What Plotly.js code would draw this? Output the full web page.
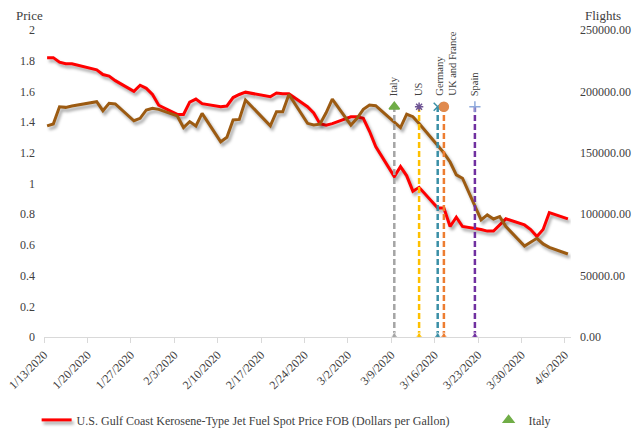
<!DOCTYPE html>
<html>
<head>
<meta charset="utf-8">
<script src="https://cdn.plot.ly/plotly-3.0.1.min.js"></script>
<style>
  html, body { margin: 0; padding: 0; background: #fff; }
  #chart { width: 641px; height: 430px; }
</style>
</head>
<body>
<div id="chart"></div>
<script>
// ---- data ----
const dates = [
  '2020-01-13','2020-01-14','2020-01-15','2020-01-16','2020-01-17',
  '2020-01-21','2020-01-22','2020-01-23','2020-01-24',
  '2020-01-27','2020-01-28','2020-01-29','2020-01-30','2020-01-31',
  '2020-02-03','2020-02-04','2020-02-05','2020-02-06','2020-02-07',
  '2020-02-10','2020-02-11','2020-02-12','2020-02-13','2020-02-14',
  '2020-02-18','2020-02-19','2020-02-20','2020-02-21',
  '2020-02-24','2020-02-25','2020-02-26','2020-02-27','2020-02-28',
  '2020-03-02','2020-03-03','2020-03-04','2020-03-05','2020-03-06',
  '2020-03-09','2020-03-10','2020-03-11','2020-03-12','2020-03-13',
  '2020-03-16','2020-03-17','2020-03-18','2020-03-19','2020-03-20',
  '2020-03-23','2020-03-24','2020-03-25','2020-03-26','2020-03-27',
  '2020-03-30','2020-03-31','2020-04-01','2020-04-02','2020-04-03',
  '2020-04-06'
];
const jetFuelPrice = [
  1.82,1.82,1.79,1.78,1.78,
  1.74,1.71,1.70,1.67,
  1.60,1.64,1.62,1.58,1.51,
  1.45,1.45,1.53,1.55,1.52,
  1.50,1.505,1.56,1.58,1.595,
  1.565,1.59,1.585,1.585,
  1.50,1.46,1.39,1.38,1.39,
  1.435,1.435,1.425,1.34,1.24,
  1.045,1.11,1.05,0.95,0.975,
  0.84,0.84,0.72,0.78,0.72,
  0.70,0.69,0.69,0.73,0.77,
  0.73,0.70,0.655,0.70,0.81,
  0.77
];
const flights = [
  171900,173500,187500,187000,188100,
  191600,184300,190300,189800,
  176100,178100,184900,186300,185400,
  180000,170600,175400,171900,182100,
  159000,162600,176800,177200,193000,
  171900,183500,183500,197500,
  174000,172600,173300,182600,193800,
  172600,178100,185400,188900,188400,
  175000,170500,181400,179400,173800,
  156500,150000,142500,132000,129300,
  95300,99400,96100,98000,90000,
  74100,77500,80400,75800,73000,
  67600
];
const eventNames  = ['Italy', 'US', 'Germany', 'UK and France', 'Spain'];
const eventDates  = ['2020-03-09', '2020-03-13', '2020-03-16', '2020-03-17', '2020-03-22'];
const eventLevel  = 187500;   // flights-axis height of event markers
const eventLabels = ['Italy', 'US', 'Germany<br>UK and France', null, 'Spain'];

const priceName = 'U.S. Gulf Coast Kerosene-Type Jet Fuel Spot Price FOB (Dollars per Gallon)';
const xTickStart = '2020-01-13';
const xRange = ['2020-01-13', '2020-04-07'];

// ---- styles ----
const FONT = 'Liberation Serif, Times New Roman, serif';
const TXT = '#404040';
const evLine   = ['#A5A5A5', '#FFC000', '#3A8FA6', '#ED7D31', '#7030A0'];
const evTopCol = ['#70AD47', '#6E5494', '#3A8FA6', '#E08A4E', '#8FAADC'];
const evTopSym = ['triangle-up', 'asterisk-open', 'x-thin-open', 'circle', 'cross-thin-open'];
const evTopSize = [9, 7, 8, 9, 8];

const mid = d => d + ' 12:00';   // Excel date axis: points centred in the day slot

const traces = [];
traces.push({
  type: 'scatter', mode: 'lines', name: priceName,
  x: dates.map(mid), y: jetFuelPrice, yaxis: 'y',
  line: { color: '#FF0000', width: 3 },
  legendrank: 1, legendwidth: 407, hoverinfo: 'skip'
});
traces.push({
  type: 'scatter', mode: 'lines', name: 'Flights',
  x: dates.map(mid), y: flights, yaxis: 'y2',
  line: { color: '#9C5B12', width: 3 },
  showlegend: false, hoverinfo: 'skip'
});
eventDates.forEach((d, i) => {
  traces.push({
    type: 'scatter', mode: 'lines+markers', name: eventNames[i] + ' line',
    x: [mid(d), mid(d)], y: [0, eventLevel], yaxis: 'y2',
    line: { color: evLine[i], width: 2.5, dash: '6px,3px' },
    marker: { symbol: 'triangle-up', size: [9, 0], color: evLine[i] },
    showlegend: false, hoverinfo: 'skip'
  });
  traces.push({
    type: 'scatter', mode: 'markers', name: eventNames[i],
    x: [mid(d)], y: [eventLevel], yaxis: 'y2',
    marker: { symbol: evTopSym[i], size: evTopSize[i], color: evTopCol[i],
              line: { color: evTopCol[i], width: 1.5 } },
    showlegend: i === 0, legendrank: 2, hoverinfo: 'skip', cliponaxis: false
  });
});

const annotations = [
  { text: 'Price', xref: 'paper', yref: 'paper', x: -0.028, y: 1.046,
    xanchor: 'center', yanchor: 'middle', showarrow: false,
    font: { family: FONT, size: 13, color: TXT } },
  { text: 'Flights', xref: 'paper', yref: 'paper', x: 1.061, y: 1.046,
    xanchor: 'center', yanchor: 'middle', showarrow: false,
    font: { family: FONT, size: 13, color: TXT } }
];
eventDates.forEach((d, i) => {
  if (!eventLabels[i]) return;
  annotations.push({
    text: eventLabels[i], xref: 'x', yref: 'paper', x: mid(d), y: 0.782,
    xanchor: 'center', yanchor: 'bottom', textangle: -90, align: 'left',
    xshift: i === 2 ? 9 : 0,
    showarrow: false, borderpad: 0,
    font: { family: FONT, size: 10.5, color: TXT }
  });
});

const layout = {
  width: 641, height: 430,
  margin: { l: 44, r: 70, t: 30, b: 93, autoexpand: false },
  paper_bgcolor: '#FFFFFF', plot_bgcolor: '#FFFFFF',
  font: { family: FONT, size: 12, color: TXT },
  showlegend: true,
  legend: {
    orientation: 'h', x: -0.014, xanchor: 'left', y: -0.27, yanchor: 'middle',
    font: { family: FONT, size: 12, color: TXT },
    bgcolor: 'rgba(0,0,0,0)'
  },
  xaxis: {
    type: 'date', range: xRange, tick0: xTickStart, dtick: 7 * 86400000,
    tickformat: '%-m/%-d/%Y', tickangle: -45,
    showline: true, linecolor: '#D9D9D9', linewidth: 1,
    ticks: 'outside', ticklen: 5, tickcolor: '#D9D9D9',
    showgrid: false, zeroline: false,
    tickfont: { family: FONT, size: 12, color: TXT }
  },
  yaxis: {
    range: [0, 2], dtick: 0.2, tick0: 0,
    showgrid: false, zeroline: false, showline: false, ticks: '',
    ticklabelstandoff: 8,
    tickfont: { family: FONT, size: 12, color: TXT }
  },
  yaxis2: {
    range: [0, 250000], dtick: 50000, tick0: 0, tickformat: '.2f',
    overlaying: 'y', side: 'right',
    showgrid: false, zeroline: false, showline: false, ticks: '',
    ticklabelstandoff: 8,
    tickfont: { family: FONT, size: 12, color: TXT }
  },
  annotations: annotations
};

Plotly.newPlot('chart', traces, layout, { staticPlot: true, displayModeBar: false }).then(() => {
  document.querySelectorAll('path.js-line').forEach(p => {
    const s = p.style.stroke;
    if (s === 'rgb(255, 0, 0)' || s === 'rgb(156, 91, 18)') {
      p.style.filter = 'drop-shadow(2px 3px 1.5px rgba(0,0,0,0.35))';
    }
  });
});
</script>
</body>
</html>
